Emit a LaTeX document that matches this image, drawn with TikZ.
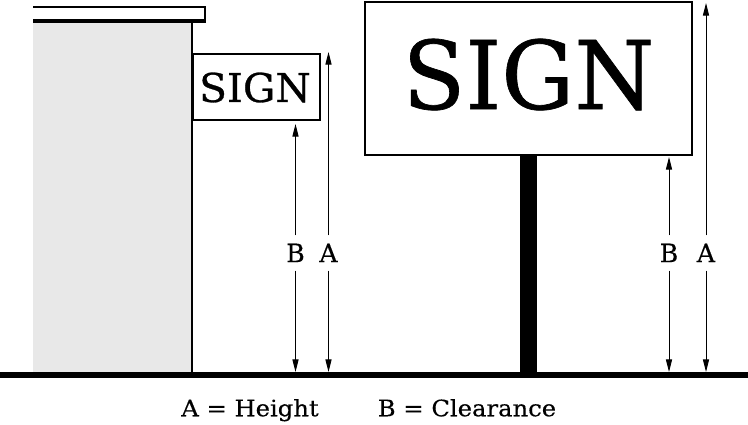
\documentclass[tikz,border=0pt]{standalone}
\usepackage{fontspec}
\setmainfont{DejaVu Serif}
\newfontfamily\signfont[FakeBold=0.7]{DejaVu Serif}
\newfontfamily\lblfont[FakeBold=0.3]{DejaVu Serif}
\usetikzlibrary{arrows.meta}
\definecolor{wallgray}{HTML}{E8E8E8}
\begin{document}
\begin{tikzpicture}[x=0.75pt,y=-0.75pt,
  dim/.style={-{Triangle[length=9.5pt,width=4.6pt]},line width=0.7pt},
  lbl/.style={font=\lblfont\fontsize{19}{20}\selectfont,inner sep=0pt,text height=13.8pt,text depth=0pt,minimum height=26pt},
  legend/.style={font=\lblfont\fontsize{17}{18}\selectfont,inner sep=0pt,text height=12.4pt,text depth=0pt,xscale=1.07},
  signbox/.style={draw,line width=1.5pt,inner sep=0pt},
  signtext/.style={inner sep=0pt,text depth=0pt}
]
\useasboundingbox (0,0) rectangle (748,424);
% building
\fill[wallgray] (33,21) rectangle (192,375);
\draw[line width=1.5pt] (192,21) -- (192,375);
\draw[line width=1.2pt] (33,7) -- (205,7) -- (205,21);
\draw[line width=2.4pt] (33,21) -- (205.5,21);
% small sign
\node[signbox,minimum width=95.25pt,minimum height=49.5pt] (small) at (256.5,87) {};
\node[signtext,font=\signfont\fontsize{29.8}{30}\selectfont,text height=21.7pt,xscale=1.02] (smalltext) at (255,87.5) {SIGN};
% big sign post
\fill (520,155) rectangle (536.5,375);
% big sign
\node[signbox,fill=white,minimum width=245.25pt,minimum height=114.75pt] (big) at (528.5,78.5) {};
\node[signtext,font=\signfont\fontsize{71}{72}\selectfont,text height=51.75pt,xscale=0.965] (bigtext) at (528.5,74.5) {SIGN};
% ground
\draw[line width=4.5pt] (0,375) -- (748,375);
% coordinates
\coordinate (bltop) at (295.5,124);
\coordinate (blbot) at (295.5,372);
\coordinate (altop) at (328.5,52);
\coordinate (albot) at (328.5,372);
\coordinate (brtop) at (669,157);
\coordinate (brbot) at (669,372);
\coordinate (artop) at (706,3);
\coordinate (arbot) at (706,372);
% labels
\node[lbl] (bl) at (295.5,253) {B};
\node[lbl] (al) at (328.5,253) {A};
\node[lbl] (br) at (669,253) {B};
\node[lbl] (ar) at (706,253) {A};
\draw[dim] (bl.north) -- (bltop);
\draw[dim] (bl.south) -- (blbot);
\draw[dim] (al.north) -- (altop);
\draw[dim] (al.south) -- (albot);
\draw[dim] (br.north) -- (brtop);
\draw[dim] (br.south) -- (brbot);
\draw[dim] (ar.north) -- (artop);
\draw[dim] (ar.south) -- (arbot);
% legend
\node[legend] (la) at (250,408) {A = Height};
\node[legend] (lb) at (467,408) {B = Clearance};
\end{tikzpicture}
\end{document}
